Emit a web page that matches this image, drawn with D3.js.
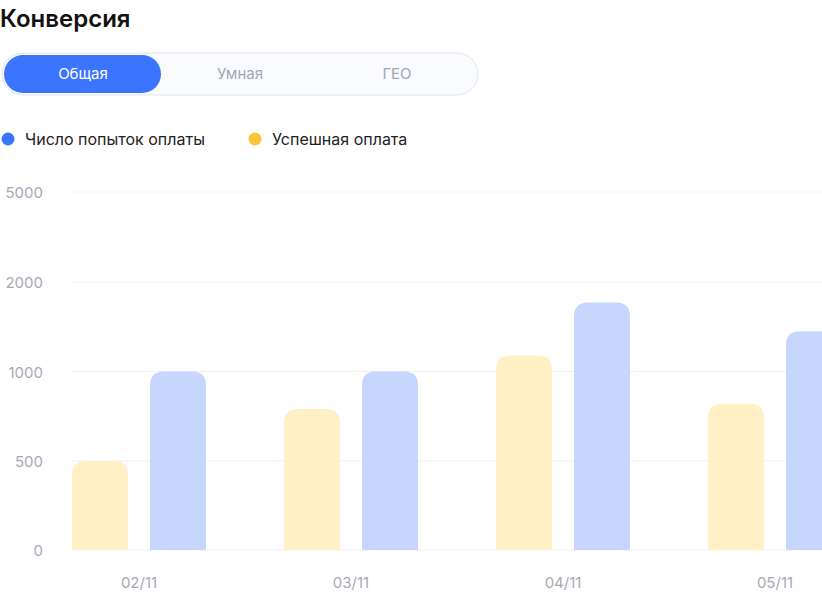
<!DOCTYPE html>
<html><head><meta charset="utf-8">
<script src="https://cdn.jsdelivr.net/npm/d3@7"></script>
<style>body{margin:0;background:#fff;font-family:Inter,"Noto Sans",sans-serif}</style>
</head><body><svg id="c" width="822" height="608"></svg>
<script>
const dates = ["02/11", "03/11", "04/11", "05/11"];
const series = ["success", "attempts"];
const successVals = [500, 790, 1180, 820];
const attemptVals = [1000, 1000, 1770, 1450];
const yTicks = [0, 500, 1000, 2000, 5000];
const tabs = ["Общая", "Умная", "ГЕО"];
const legendLabels = ["Число попыток оплаты", "Успешная оплата"];

const svg = d3.select("#c");
const colors = { success: "#fff0c6", attempts: "#c6d6fd" };

svg.append("text").attr("x", 0).attr("y", 27).attr("font-size", 24).attr("font-weight", 600)
  .attr("fill", "#111").text("Конверсия");

// tabs
svg.append("rect").attr("x", 2).attr("y", 53).attr("width", 476).attr("height", 42).attr("rx", 21)
  .attr("fill", "#fafbfe").attr("stroke", "#e3e5ee");
svg.append("rect").attr("x", 4).attr("y", 55).attr("width", 157).attr("height", 38).attr("rx", 19)
  .attr("fill", "#3a74ff");
const tabX = [83, 240, 397];
tabs.forEach((t, i) => svg.append("text").attr("x", tabX[i]).attr("y", 79).attr("text-anchor", "middle")
  .attr("font-size", 15).attr("fill", i === 0 ? "#fff" : "#a3a6b4").text(t));

// legend
[["#3a74ff", 8, legendLabels[0]], ["#fbc43a", 255, legendLabels[1]]].forEach(([c, x, t]) => {
  svg.append("circle").attr("cx", x).attr("cy", 139).attr("r", 6.5).attr("fill", c);
  svg.append("text").attr("x", x + 17).attr("y", 145).attr("font-size", 16).attr("fill", "#222").text(t);
});

const y = d3.scaleLinear().domain(yTicks).range([550, 461, 371.5, 282, 192]);
const x = d3.scaleBand().domain(dates).range([33, 881]);
const xs = d3.scaleBand().domain(series).range([39, 173]).paddingInner(0.282);

const g = svg.append("g");
g.selectAll(".grid").data(yTicks).join("line").attr("x1", 72).attr("x2", 822)
  .attr("y1", d => y(d)).attr("y2", d => y(d)).attr("stroke", "#f0f1f5");
g.selectAll(".yl").data(yTicks).join("text").attr("x", 43).attr("y", d => y(d) + 6)
  .attr("text-anchor", "end").attr("font-size", 15).attr("fill", "#a7a9b6").text(d => d);

const rows = dates.flatMap((d, i) => [
  { d, s: "success", v: successVals[i] }, { d, s: "attempts", v: attemptVals[i] }]);
function barPath(x0, w, top, bottom, r) {
  return `M${x0},${bottom}V${top + r}Q${x0},${top} ${x0 + r},${top}H${x0 + w - r}Q${x0 + w},${top} ${x0 + w},${top + r}V${bottom}Z`;
}
g.selectAll(".bar").data(rows).join("path")
  .attr("fill", d => colors[d.s])
  .attr("d", d => barPath(x(d.d) + xs(d.s), xs.bandwidth(), y(d.v), y(0), 14));

const xAxis = d3.axisBottom(x).tickSize(0).tickPadding(0);
svg.append("g").attr("transform", "translate(0,588)").call(xAxis)
  .call(a => a.select(".domain").remove())
  .selectAll("text").attr("font-size", 15).attr("fill", "#a7a9b6").attr("font-family", "Inter,sans-serif").attr("dy", 0);
</script></body></html>
